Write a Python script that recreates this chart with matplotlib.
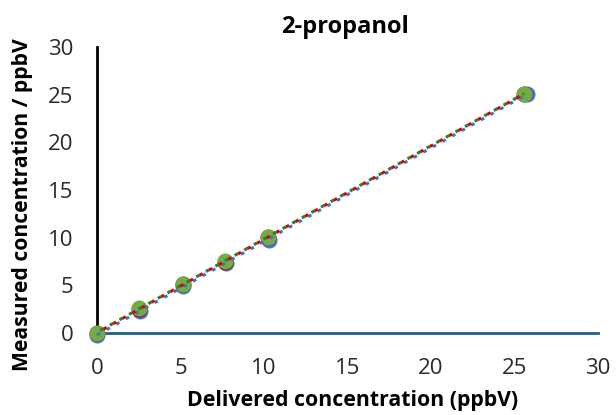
import matplotlib
matplotlib.use("Agg")
import matplotlib.pyplot as plt
import numpy as np

plt.rcParams['font.family'] = ['Open Sans', 'DejaVu Sans']

title = "2-propanol"
xlabel = "Delivered concentration (ppbV)"
ylabel = "Measured concentration / ppbV"
ticks = [0, 5, 10, 15, 20, 25, 30]

# series: delivered (x) and measured (y)
blue_x = [0.0, 2.55, 5.15, 7.7, 10.3, 25.75]
blue_y = [-0.2, 2.35, 4.9, 7.3, 9.8, 25.1]
red_x = [0.0, 2.53, 5.13, 7.66, 10.26, 25.57]
red_y = [0.0, 2.55, 5.15, 7.45, 10.05, 25.1]
green_x = [0.0, 2.53, 5.13, 7.66, 10.26, 25.57]
green_y = [0.0, 2.6, 5.19, 7.5, 10.1, 25.1]

series = [
    (blue_x, blue_y, "#4472C4"),
    (red_x, red_y, "#C00000"),
    (green_x, green_y, "#70AD47"),
]
trend_colors = ["#4472C4", "#E00000", "#2E7D32"]

fig = plt.figure(figsize=(6.16, 4.15), dpi=100)
ax = fig.add_axes([0.1575, 0.1976, 0.8133, 0.6892])

for (xs, ys, c) in series:
    ax.plot(xs, ys, 'o', color=c, markersize=11.5, markeredgewidth=0, clip_on=False, zorder=3)

for i, ((xs, ys, c), tc) in enumerate(zip(series, trend_colors)):
    m, b = np.polyfit(xs, ys, 1)
    xx = np.array([min(xs), max(xs)])
    ax.plot(xx, m * xx + b, linestyle=(i * 1.2, (1.2, 2.4)), color=tc, linewidth=2.2, zorder=4, clip_on=False)

ax.set_xlim(0, 30)
ax.set_ylim(0, 30)
ax.set_xticks(ticks)
ax.set_yticks(ticks)
ax.tick_params(axis='both', length=0, labelsize=16, colors='#2a2a2a')
ax.tick_params(axis='x', pad=18)
ax.tick_params(axis='y', pad=17)
for s in ['top', 'right']:
    ax.spines[s].set_visible(False)
ax.spines['left'].set_color('black')
ax.spines['left'].set_linewidth(2)
ax.spines['bottom'].set_color('#1F5F8B')
ax.spines['bottom'].set_linewidth(2)

fig.text(0.56, 0.935, title, ha='center', va='center', fontsize=17, fontweight='bold')
fig.text(0.572, 0.036, xlabel, ha='center', va='center', fontsize=15.3, fontweight='bold')
fig.text(0.036, 0.506, ylabel, ha='center', va='center', rotation=90, fontsize=15.2, fontweight='bold')

fig.savefig("out.png", dpi=100)
